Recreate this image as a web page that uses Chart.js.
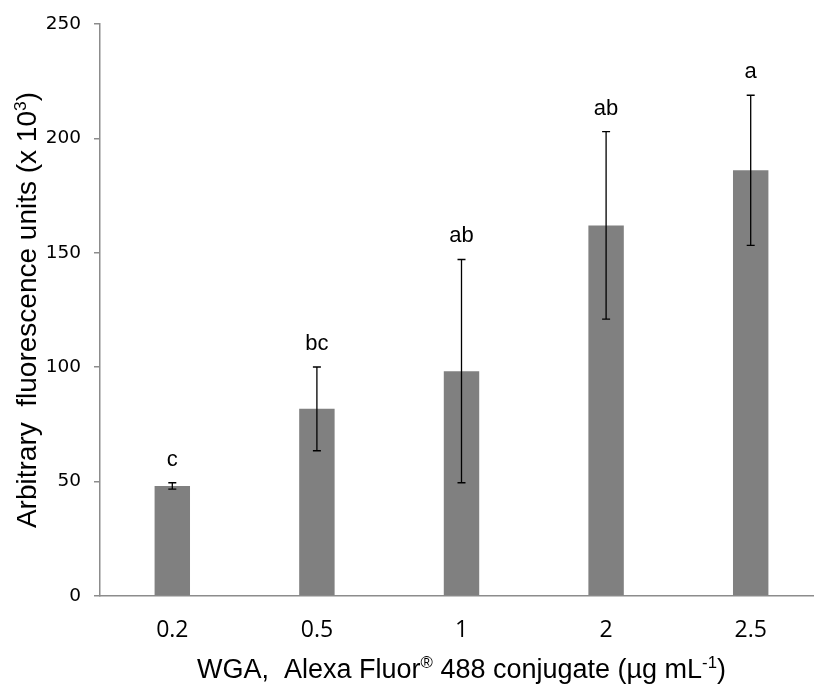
<!DOCTYPE html>
<html>
<head>
<meta charset="utf-8">
<script src="https://cdn.jsdelivr.net/npm/chart.js@4.4.1/dist/chart.umd.min.js"></script>
<style>
  body { margin: 0; overflow: hidden; background: #fff; }
  #wrap { position: absolute; left: 0; top: 0; width: 830px; height: 690px; }
</style>
</head>
<body>
<div id="wrap"><canvas id="chart"></canvas></div>
<script>
// datos
const doses = ['0.2', '0.5', '1', '2', '2.5'];
const fluorescence = [48.1, 81.8, 98.3, 162.0, 186.1];
const errors = [1.4, 18.3, 48.8, 41.0, 32.8];
const groups = ['c', 'bc', 'ab', 'ab', 'a'];
const yTicks = [0, 50, 100, 150, 200, 250];

const ARIAL = '"Liberation Sans", Arial, sans-serif';

// barras de error + letras de significancia
const errorBarsPlugin = {
    id: 'errorBars',
    afterDatasetsDraw(chart) {
        const ctx = chart.ctx;
        const meta = chart.getDatasetMeta(0);
        const y = chart.scales.y;
        ctx.save();
        ctx.strokeStyle = '#000';
        ctx.lineWidth = 1.3;
        meta.data.forEach((bar, i) => {
            const top = y.getPixelForValue(fluorescence[i] + errors[i]);
            const bottom = y.getPixelForValue(fluorescence[i] - errors[i]);
            ctx.beginPath();
            ctx.moveTo(bar.x, top);
            ctx.lineTo(bar.x, bottom);
            ctx.moveTo(bar.x - 4, top);
            ctx.lineTo(bar.x + 4, top);
            ctx.moveTo(bar.x - 4, bottom);
            ctx.lineTo(bar.x + 4, bottom);
            ctx.stroke();

            ctx.fillStyle = '#000';
            ctx.font = '22px ' + ARIAL;
            ctx.textAlign = 'center';
            ctx.textBaseline = 'alphabetic';
            ctx.fillText(groups[i], bar.x, top - 17);
        });
        ctx.restore();
    }
};

// dibuja texto con superindices, centrado en el origen
function drawRich(ctx, parts, size) {
    let w = 0;
    parts.forEach(p => {
        ctx.font = (p.sup ? size * 0.62 : size) + 'px ' + ARIAL;
        w += ctx.measureText(p.t).width;
    });
    let x = -w / 2;
    parts.forEach(p => {
        ctx.font = (p.sup ? size * 0.62 : size) + 'px ' + ARIAL;
        ctx.fillText(p.t, x, p.sup ? -size * 0.36 : 0);
        x += ctx.measureText(p.t).width;
    });
}

const axisTitlesPlugin = {
    id: 'axisTitles',
    afterDraw(chart) {
        const ctx = chart.ctx;
        const area = chart.chartArea;
        ctx.save();
        ctx.fillStyle = '#000';
        ctx.textBaseline = 'alphabetic';
        ctx.textAlign = 'left';

        ctx.save();
        ctx.translate((area.left + area.right) / 2, 678);
        drawRich(ctx, [
            { t: 'WGA,  Alexa Fluor' },
            { t: '®', sup: true },
            { t: ' 488 conjugate (µg mL' },
            { t: '-1', sup: true },
            { t: ')' }
        ], 27);
        ctx.restore();

        ctx.save();
        ctx.translate(36, (area.top + area.bottom) / 2);
        ctx.rotate(-Math.PI / 2);
        drawRich(ctx, [
            { t: 'Arbitrary  fluorescence units (x 10' },
            { t: '3', sup: true },
            { t: ')' }
        ], 28);
        ctx.restore();

        ctx.restore();
    }
};

new Chart(document.getElementById('chart'), {
    type: 'bar',
    data: {
        labels: doses,
        datasets: [{
            data: fluorescence,
            backgroundColor: '#808080',
            borderWidth: 0,
            categoryPercentage: 1,
            barPercentage: 0.245
        }]
    },
    options: {
        responsive: true,
        maintainAspectRatio: false,
        animation: false,
        layout: { padding: { top: 24, right: 7, left: 0, bottom: 0 } },
        plugins: {
            legend: { display: false },
            tooltip: { enabled: false }
        },
        scales: {
            x: {
                grid: { display: false, drawTicks: false },
                border: { display: true, color: '#8c8c8c', width: 1.5 },
                ticks: {
                    padding: 21,
                    color: '#000',
                    font: { family: '"Open Sans", sans-serif', size: 23 }
                },
                afterFit(scale) { scale.height = 94; }
            },
            y: {
                min: 0,
                max: 250,
                afterBuildTicks(scale) { scale.ticks = yTicks.map(v => ({ value: v })); },
                grid: { drawOnChartArea: false, drawTicks: true, tickLength: 6, color: '#8c8c8c', lineWidth: 1.5 },
                border: { display: true, color: '#8c8c8c', width: 1.5 },
                ticks: {
                    padding: 13,
                    color: '#000',
                    font: { family: '"DejaVu Sans", sans-serif', size: 18.5 }
                },
                afterFit(scale) { scale.width = 100; }
            }
        }
    },
    plugins: [errorBarsPlugin, axisTitlesPlugin]
});
</script>
</body>
</html>
